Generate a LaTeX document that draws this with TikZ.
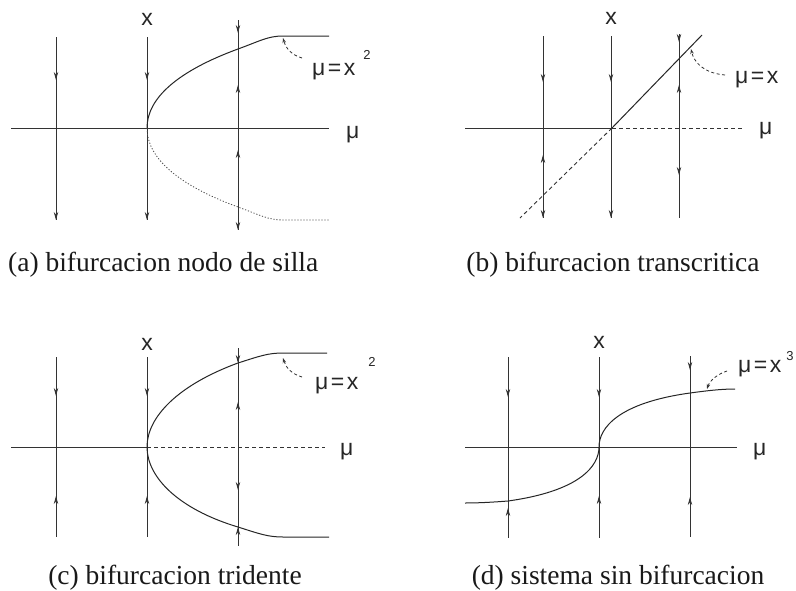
\documentclass[tikz,border=0pt]{standalone}
\usepackage{fontspec}
\setmainfont{Liberation Serif}
\newfontfamily\lblfont{Liberation Sans}
\usetikzlibrary{arrows.meta}
\tikzset{
  ln/.style={line width=0.8pt, draw=black!80},
  crv/.style={line width=1pt, draw=black!85},
  dsh/.style={line width=0.9pt, draw=black!80, dash pattern=on 4pt off 3pt},
  dotline/.style={line width=0.8pt, draw=black!70, dash pattern=on 1.2pt off 1.8pt},
  tipa/.style={-{Stealth[length=8pt,width=4.4pt]}, line width=0.8pt, draw=black!80, fill=black!80},
  ptr/.style={line width=0.8pt, draw=black!80, dash pattern=on 3pt off 2.5pt, -{Stealth[length=5pt,width=3.5pt,open]}},
  lbl/.style={inner sep=0pt, font=\lblfont\fontsize{23}{25}\selectfont, text=black!85},
  suptxt/.style={inner sep=0pt, font=\lblfont\fontsize{13}{14}\selectfont, text=black!85},
  captxt/.style={inner sep=0pt, font=\fontsize{27.5}{30}\selectfont, text=black!90},
}
\newcommand\arrdn[2]{\draw[tipa] (#1,#2-8) -- (#1,#2);}
\newcommand\arrup[2]{\draw[tipa] (#1,#2+8) -- (#1,#2);}
\newcommand\mueq[1]{μ\kern2.5pt=\kern2.5pt#1}
\begin{document}
\begin{tikzpicture}[x=1pt,y=-1pt]
\useasboundingbox[fill=white] (0,0) rectangle (796,590);

% ---------------- (a) ----------------
\draw[ln] (11,128) -- (329,128);
\draw[ln] (56,37) -- (56,220);
\arrdn{56}{80}\arrdn{56}{220}
\draw[ln] (147,37) -- (147,220);
\arrdn{147}{80}\arrdn{147}{220}
\draw[ln] (238,20) -- (238,230);
\arrdn{238}{33}\arrup{238}{85}\arrup{238}{150}\arrdn{238}{230}
\draw[crv] (147,128) .. controls (147,98) and (178,71) .. (238,49) .. controls (260,41) and (268,36) .. (283,36) -- (329,36);
\draw[dotline] (147,128) .. controls (147,158) and (178,185) .. (238,207) .. controls (260,215) and (268,220) .. (283,220) -- (329,220);
\draw[ptr] (302,58) .. controls (292,55) and (286,49) .. (283,38);
\node[lbl, anchor=base] (ax) at (147,25) {x};
\node[lbl, anchor=base west] (amu) at (346,138) {μ};
\node[lbl, anchor=base west] (aeq) at (312,75) {\mueq{x}};
\node[suptxt, anchor=base] (asup) at (367,59) {2};
\node[captxt, anchor=base west] (acap) at (8,271) {(a) bifurcacion nodo de silla};

% ---------------- (b) ----------------
\draw[ln] (465,128) -- (612,128);
\draw[dsh] (612,128) -- (743,128);
\draw[ln] (543,36) -- (543,218);
\arrdn{543}{82}\arrup{543}{155}\arrdn{543}{218}
\draw[ln] (611,36) -- (611,218);
\arrdn{611}{82}\arrdn{611}{218}
\draw[ln] (679,35) -- (679,218);
\arrdn{679}{42}\arrup{679}{85}\arrdn{679}{175}
\draw[crv] (612,128) -- (702,35);
\draw[dsh] (612,128) -- (520,218);
\draw[ptr] (725,75) .. controls (703,73) and (694,62) .. (691,49);
\node[lbl, anchor=base] (bx) at (611,24) {x};
\node[lbl, anchor=base west] (bmu) at (759,134) {μ};
\node[lbl, anchor=base west] (beq) at (735,83) {\mueq{x}};
\node[captxt, anchor=base] (bcap) at (613,271) {(b) bifurcacion transcritica};

% ---------------- (c) ----------------
\draw[ln] (11,447) -- (147,447);
\draw[dsh] (147,447) -- (325,447);
\draw[ln] (56,357) -- (56,537);
\arrdn{56}{396}\arrup{56}{496}
\draw[ln] (147,357) -- (147,537);
\arrdn{147}{396}\arrup{147}{496}
\draw[ln] (238,348) -- (238,546);
\arrdn{238}{363}\arrup{238}{402}\arrdn{238}{490}\arrup{238}{527}
\draw[crv] (147,447) .. controls (147,417) and (178,385) .. (238,363) .. controls (260,356) and (268,353) .. (283,353) -- (327,353);
\draw[crv] (147,447) .. controls (147,477) and (178,509) .. (238,527) .. controls (260,534) and (268,537) .. (283,537) -- (329,537);
\draw[ptr] (302,377) .. controls (292,374) and (286,368) .. (283,358);
\node[lbl, anchor=base] (cx) at (147,350) {x};
\node[lbl, anchor=base west] (cmu) at (340,455) {μ};
\node[lbl, anchor=base west] (ceq) at (315,389) {\mueq{x}};
\node[suptxt, anchor=base] (csup) at (372,366) {2};
\node[captxt, anchor=base] (ccap) at (175,584) {(c) bifurcacion tridente};

% ---------------- (d) ----------------
\draw[ln] (465,447) -- (737,447);
\draw[ln] (508,357) -- (508,538);
\arrdn{508}{397}\arrup{508}{508}
\draw[ln] (599,357) -- (599,538);
\arrdn{599}{397}\arrup{599}{496}
\draw[ln] (690,356) -- (690,537);
\arrdn{690}{370}\arrup{690}{497}
\draw[crv] (465,503) .. controls (480,503) and (495,502) .. (508,501) .. controls (580,491) and (599,466) .. (599,447) .. controls (599,428) and (618,403) .. (690,393) .. controls (705,391) and (720,389) .. (735,389);
\draw[ptr] (727,371) .. controls (718,374) and (710,380) .. (707,389);
\node[lbl, anchor=base] (dx) at (599,348) {x};
\node[lbl, anchor=base west] (dmu) at (753,455) {μ};
\node[lbl, anchor=base west] (deq) at (738,372) {\mueq{x}};
\node[suptxt, anchor=base] (dsup) at (790,360) {3};
\node[captxt, anchor=base] (dcap) at (618,584) {(d) sistema sin bifurcacion};
\end{tikzpicture}
\end{document}
